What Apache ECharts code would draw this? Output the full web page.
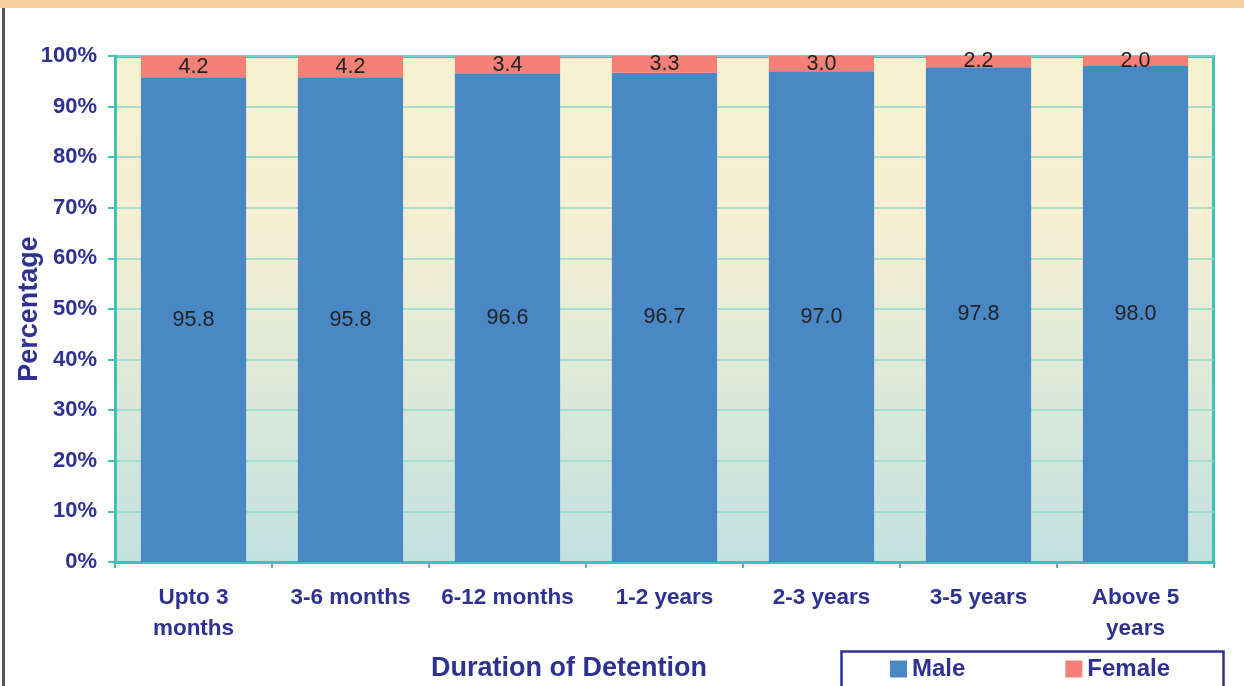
<!DOCTYPE html>
<html>
<head>
<meta charset="utf-8">
<script src="https://cdn.jsdelivr.net/npm/echarts@6/dist/echarts.min.js"></script>
<style>
  html, body { margin: 0; padding: 0; background: #ffffff; }
  #main { width: 1244px; height: 686px; }
</style>
</head>
<body>
<div id="main"></div>
<script>
var categories = ['Upto 3\nmonths', '3-6 months', '6-12 months', '1-2 years', '2-3 years', '3-5 years', 'Above 5\nyears'];
var maleValues = [95.8, 95.8, 96.6, 96.7, 97.0, 97.8, 98.0];
var femaleValues = [4.2, 4.2, 3.4, 3.3, 3.0, 2.2, 2.0];

var navy = '#2e3192';
var teal = '#3fc0b8';
var font = 'Arial, "Liberation Sans", sans-serif';

var myChart = echarts.init(document.getElementById('main'));

var option = {
    animation: false,
    textStyle: { fontFamily: font },
    grid: {
        left: 115,
        right: 30,
        top: 56,
        bottom: 124,
        containLabel: false,
        outerBoundsMode: 'none',
        show: true,
        borderWidth: 0,
        backgroundColor: new echarts.graphic.LinearGradient(0, 0, 0, 1, [
            { offset: 0, color: '#f8f1d0' },
            { offset: 0.35, color: '#f4efd3' },
            { offset: 1, color: '#c2e1df' }
        ])
    },
    legend: {
        left: 890,
        top: 657,
        padding: 0,
        itemWidth: 17,
        itemHeight: 17,
        itemGap: 100,
        icon: 'rect',
        textStyle: { color: navy, fontSize: 24, fontWeight: 'bold', fontFamily: font },
        data: ['Male', 'Female']
    },
    xAxis: {
        type: 'category',
        data: categories,
        axisLine: { lineStyle: { color: teal, width: 3 } },
        axisTick: { show: true, length: 6, lineStyle: { color: teal, width: 2 } },
        axisLabel: {
            margin: 20,
            color: navy,
            fontSize: 22.5,
            fontWeight: 'bold',
            fontFamily: font,
            lineHeight: 31,
            interval: 0
        }
    },
    yAxis: {
        type: 'value',
        min: 0,
        max: 100,
        interval: 10,
        name: 'Percentage',
        nameLocation: 'middle',
        nameGap: 72,
        nameMoveOverlap: false,
        nameTextStyle: { color: navy, fontSize: 27, fontWeight: 'bold', fontFamily: font },
        axisLine: { show: true, lineStyle: { color: teal, width: 3 } },
        axisTick: { show: true, length: 7, lineStyle: { color: teal, width: 2 } },
        axisLabel: {
            formatter: '{value}%',
            margin: 18,
            color: navy,
            fontSize: 22,
            fontWeight: 'bold',
            fontFamily: font
        },
        splitLine: { lineStyle: { color: '#8fd8c8', width: 1.5 } }
    },
    graphic: [
        { type: 'rect', left: 0, top: 0, shape: { width: 1244, height: 8 },
          style: { fill: '#f6cf9e' } },
        { type: 'rect', left: 2, top: 8, shape: { width: 3, height: 678 },
          style: { fill: '#555555' } },
        { type: 'rect', left: 1212, top: 56, shape: { width: 3, height: 506 },
          style: { fill: teal } },
        { type: 'rect', left: 115, top: 55, shape: { width: 1100, height: 3 },
          style: { fill: teal } },
        { type: 'rect', left: 839, top: 649, shape: { width: 382, height: 50 },
          style: { fill: 'none', stroke: navy, lineWidth: 2.5 } },
        { type: 'text', left: 431, top: 655,
          style: { text: 'Duration of Detention', fill: navy, fontSize: 27, fontWeight: 'bold', fontFamily: font } }
    ],
    series: [
        {
            name: 'Male',
            type: 'bar',
            stack: 'total',
            barWidth: '67%',
            itemStyle: { color: '#4a87c5' },
            label: { show: true, position: 'inside', color: '#222', fontSize: 21.5, fontFamily: font,
                     formatter: function (p) { return p.value.toFixed(1); } },
            data: maleValues
        },
        {
            name: 'Female',
            type: 'bar',
            stack: 'total',
            barWidth: '67%',
            itemStyle: { color: '#f58077' },
            label: { show: true, position: 'inside', color: '#222', fontSize: 21.5, fontFamily: font,
                     formatter: function (p) { return p.value.toFixed(1); } },
            data: femaleValues
        }
    ]
};

myChart.setOption(option);
</script>
</body>
</html>
